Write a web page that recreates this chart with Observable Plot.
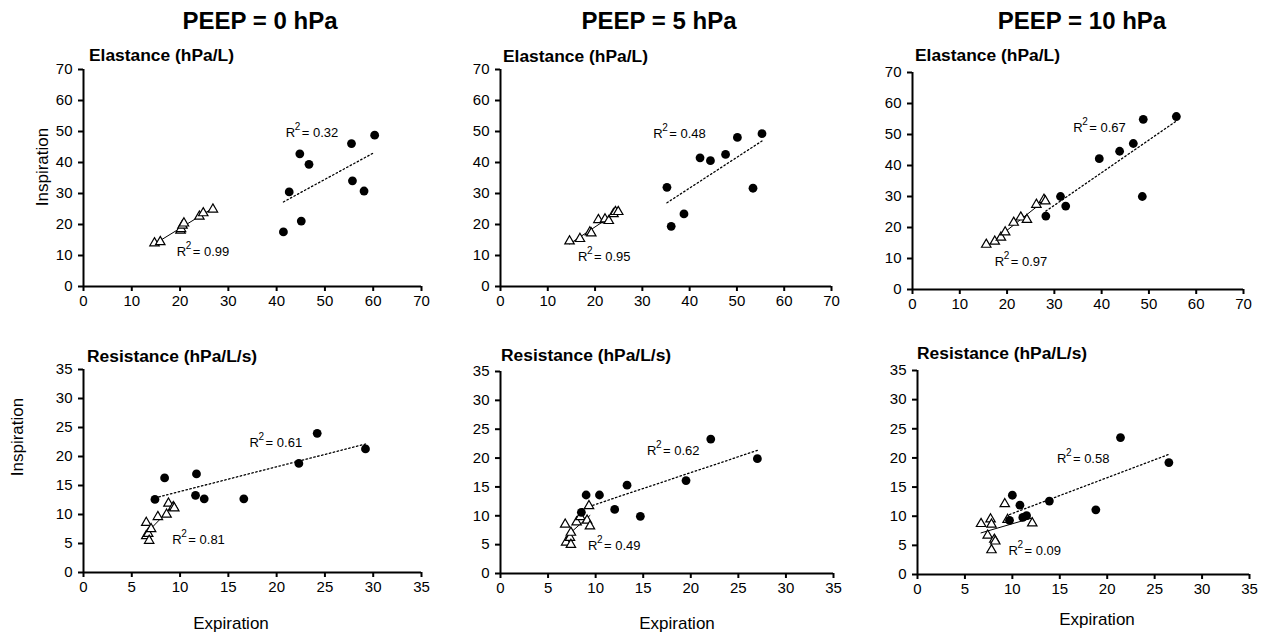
<!DOCTYPE html>
<html>
<head>
<meta charset="utf-8">
<script src="https://cdn.jsdelivr.net/npm/d3@7"></script>
<script src="https://cdn.jsdelivr.net/npm/@observablehq/plot@0.6"></script>
<style>
  body { margin: 0; background: #fff; font-family: "Liberation Sans", Arial, sans-serif; }
  #root { position: relative; width: 1265px; height: 632px; overflow: hidden; background: #fff; }
  .abs { position: absolute; white-space: nowrap; color: #000; line-height: 1; }
  .title { font-weight: bold; font-size: 24px; transform: translate(-50%, -50%); }
  .sub { font-weight: bold; font-size: 17.4px; transform: translateY(-50%); }
  .xl { font-size: 17px; transform: translate(-50%, -50%); }
  .yl { font-size: 17px; transform: translate(-50%, -50%) rotate(-90deg); }
  .panel { position: absolute; }
</style>
</head>
<body>
<div id="root"></div>
<script>
// ---------- text ----------
const columnTitles = ["PEEP = 0 hPa", "PEEP = 5 hPa", "PEEP = 10 hPa"];
const rowTitles = ["Elastance (hPa/L)", "Resistance (hPa/L/s)"];
const xAxisLabel = "Expiration";
const yAxisLabel = "Inspiration";

// ---------- tick labels ----------
const elastanceTicks = [0, 10, 20, 30, 40, 50, 60, 70];
const resistanceTicks = [0, 5, 10, 15, 20, 25, 30, 35];

// ---------- data: Elastance, PEEP = 0 ----------
const e0CircleExp  = [41.4, 42.6, 44.8, 45.1, 46.7, 55.5, 55.7, 58.1, 60.3];
const e0CircleInsp = [17.6, 30.5, 42.8, 21.1, 39.4, 46.1, 34.1, 30.8, 48.8];
const e0TriExp     = [14.7, 15.9, 20.1, 20.2, 20.5, 20.8, 24.0, 24.8, 26.8];
const e0TriInsp    = [14.0, 14.4, 18.1, 18.6, 19.7, 20.4, 22.6, 23.7, 24.9];

// ---------- data: Elastance, PEEP = 5 ----------
const e5CircleExp  = [35.2, 36.1, 38.8, 42.2, 44.4, 47.6, 50.1, 53.4, 55.3];
const e5CircleInsp = [32.0, 19.4, 23.4, 41.5, 40.6, 42.6, 48.1, 31.7, 49.3];
const e5TriExp     = [14.6, 16.8, 18.9, 19.2, 20.7, 22.1, 22.9, 23.9, 24.3, 24.9];
const e5TriInsp    = [14.6, 15.4, 17.5, 17.2, 21.5, 21.7, 21.2, 23.4, 24.1, 24.1];

// ---------- data: Elastance, PEEP = 10 ----------
const e10CircleExp  = [28.2, 31.3, 32.4, 39.5, 43.8, 46.7, 48.8, 48.6, 55.8];
const e10CircleInsp = [23.7, 30.0, 26.9, 42.2, 44.6, 47.1, 54.9, 30.0, 55.8];
const e10TriExp     = [15.6, 17.4, 18.7, 19.6, 21.4, 22.9, 24.2, 26.2, 27.8, 28.1];
const e10TriInsp    = [14.5, 15.5, 16.8, 18.5, 21.6, 23.3, 22.5, 27.4, 29.0, 28.5];

// ---------- data: Resistance, PEEP = 0 ----------
const r0CircleExp  = [7.4, 8.4, 11.6, 11.7, 12.5, 16.6, 22.3, 24.2, 29.2];
const r0CircleInsp = [12.6, 16.3, 13.3, 17.0, 12.7, 12.7, 18.8, 24.0, 21.3];
const r0TriExp     = [6.5, 6.5, 6.7, 6.8, 7.0, 7.7, 8.6, 8.8, 9.3, 9.4];
const r0TriInsp    = [8.6, 6.3, 6.7, 5.5, 7.5, 9.6, 10.0, 11.9, 11.3, 11.1];

// ---------- data: Resistance, PEEP = 5 ----------
const r5CircleExp  = [8.5, 9.0, 10.4, 12.0, 13.3, 14.7, 19.5, 22.1, 27.0];
const r5CircleInsp = [10.6, 13.6, 13.6, 11.1, 15.3, 9.9, 16.1, 23.3, 19.9];
const r5TriExp     = [6.8, 6.9, 7.3, 7.4, 7.4, 8.0, 8.4, 9.1, 9.3, 9.4];
const r5TriInsp    = [8.5, 5.4, 6.2, 7.1, 5.0, 8.9, 9.8, 9.2, 11.7, 8.2];

// ---------- data: Resistance, PEEP = 10 ----------
const r10CircleExp  = [9.7, 10.0, 10.8, 11.1, 11.5, 13.9, 18.8, 21.4, 26.5];
const r10CircleInsp = [9.3, 13.6, 11.9, 9.8, 10.1, 12.6, 11.1, 23.5, 19.2];
const r10TriExp     = [6.7, 7.4, 7.7, 7.8, 7.8, 8.1, 8.2, 9.2, 9.5, 12.1];
const r10TriInsp    = [8.7, 6.7, 9.5, 8.6, 4.2, 6.0, 5.7, 12.1, 9.4, 8.8];

// ---------- R² annotations (value, anchor x, anchor y) ----------
const r2CircleText = ["0.32", "0.48", "0.67", "0.61", "0.62", "0.58"];
const r2CircleAtX  = [41.9, 32.3, 34.0, 17.2, 15.4, 14.7];
const r2CircleAtY  = [49.5, 49.3, 52.2, 22.4, 21.3, 19.9];
const r2TriText    = ["0.99", "0.95", "0.97", "0.81", "0.49", "0.09"];
const r2TriAtX     = [19.3, 16.4, 17.4, 9.2, 9.2, 9.6];
const r2TriAtY     = [11.1, 9.6, 8.9, 5.7, 4.8, 4.1];

// ---------- layout (pixel frame of each panel) ----------
const layout = [
  {L: 83,  T: 69,  W: 338, H: 217},
  {L: 500, T: 69,  W: 331, H: 217},
  {L: 912, T: 72,  W: 331, H: 217},
  {L: 83,  T: 369, W: 338, H: 203},
  {L: 500, T: 371, W: 333, H: 202},
  {L: 917, T: 370, W: 332, H: 204}
];
const panelData = [
  [e0CircleExp, e0CircleInsp, e0TriExp, e0TriInsp],
  [e5CircleExp, e5CircleInsp, e5TriExp, e5TriInsp],
  [e10CircleExp, e10CircleInsp, e10TriExp, e10TriInsp],
  [r0CircleExp, r0CircleInsp, r0TriExp, r0TriInsp],
  [r5CircleExp, r5CircleInsp, r5TriExp, r5TriInsp],
  [r10CircleExp, r10CircleInsp, r10TriExp, r10TriInsp]
];

const root = document.getElementById("root");
const FONT = '"Liberation Sans", Arial, sans-serif';

function addText(cls, txt, x, y) {
  const d = document.createElement("div");
  d.className = "abs " + cls;
  d.textContent = txt;
  d.style.left = x + "px";
  d.style.top = y + "px";
  root.appendChild(d);
}

panelData.forEach((pd, i) => {
  const lay = layout[i];
  const isElast = i < 3;
  const ticks = isElast ? elastanceTicks : resistanceTicks;
  const maxV = ticks[ticks.length - 1];
  const [cx, cy, tx, ty] = pd;
  const circ = cx.map((x, k) => ({x, y: cy[k]}));
  const tri = tx.map((x, k) => ({x, y: ty[k]}));
  const labels = [
    {x: r2CircleAtX[i], y: r2CircleAtY[i], v: "= " + r2CircleText[i]},
    {x: r2TriAtX[i], y: r2TriAtY[i], v: "= " + r2TriText[i]}
  ];
  const ml = 80, mt = 20, mr = 30, mb = 40;
  const chart = Plot.plot({
    width: ml + lay.W + mr,
    height: mt + lay.H + mb,
    marginLeft: ml, marginTop: mt, marginRight: mr, marginBottom: mb,
    style: {fontFamily: FONT, fontSize: "15px", background: "transparent", overflow: "visible", color: "#000"},
    x: {domain: [0, maxV]},
    y: {domain: [0, maxV]},
    marks: [
      Plot.axisX({ticks, tickSize: 5, tickPadding: 4, strokeWidth: 2, fontSize: 15, label: null, tickFormat: d => String(d)}),
      Plot.axisY({ticks, tickSize: 5, tickPadding: 6, strokeWidth: 2, fontSize: 15, label: null, tickFormat: d => String(d)}),
      Plot.ruleX([0], {stroke: "#000", strokeWidth: 2}),
      Plot.ruleY([0], {stroke: "#000", strokeWidth: 2}),
      Plot.linearRegressionY(tri, {x: "x", y: "y", ci: 0, stroke: "#000", strokeWidth: 1}),
      Plot.linearRegressionY(circ, {x: "x", y: "y", ci: 0, stroke: "#000", strokeWidth: 1.3, strokeDasharray: "1.5 2.5"}),
      Plot.dot(tri, {x: "x", y: "y", symbol: "triangle", r: 3.5, fill: "#fff", stroke: "#000", strokeWidth: 1.2}),
      Plot.dot(circ, {x: "x", y: "y", r: 4.4, fill: "#000", stroke: "none"}),
      Plot.text(labels, {x: "x", y: "y", text: () => "R", textAnchor: "start", lineAnchor: "middle", fontSize: 13, fill: "#000"}),
      Plot.text(labels, {x: "x", y: "y", text: () => "2", dx: 9, dy: -6, textAnchor: "start", lineAnchor: "middle", fontSize: 10, fill: "#000"}),
      Plot.text(labels, {x: "x", y: "y", text: "v", dx: 16, textAnchor: "start", lineAnchor: "middle", fontSize: 13, fill: "#000"})
    ]
  });
  chart.classList.add("panel");
  chart.style.left = (lay.L - ml) + "px";
  chart.style.top = (lay.T - mt) + "px";
  root.appendChild(chart);
});

// column titles
[[260, 21], [659, 21], [1082, 21]].forEach((p, i) => addText("title", columnTitles[i], p[0], p[1]));
// panel subtitles
[[89, 56], [503, 57], [915, 56]].forEach(p => addText("sub", rowTitles[0], p[0], p[1]));
[[87, 357], [501, 356], [917, 354]].forEach(p => addText("sub", rowTitles[1], p[0], p[1]));
// axis labels
[[42, 167], [17, 437]].forEach(p => addText("yl", yAxisLabel, p[0], p[1]));
[[231, 623], [677, 623], [1097, 619]].forEach(p => addText("xl", xAxisLabel, p[0], p[1]));
</script>
</body>
</html>
